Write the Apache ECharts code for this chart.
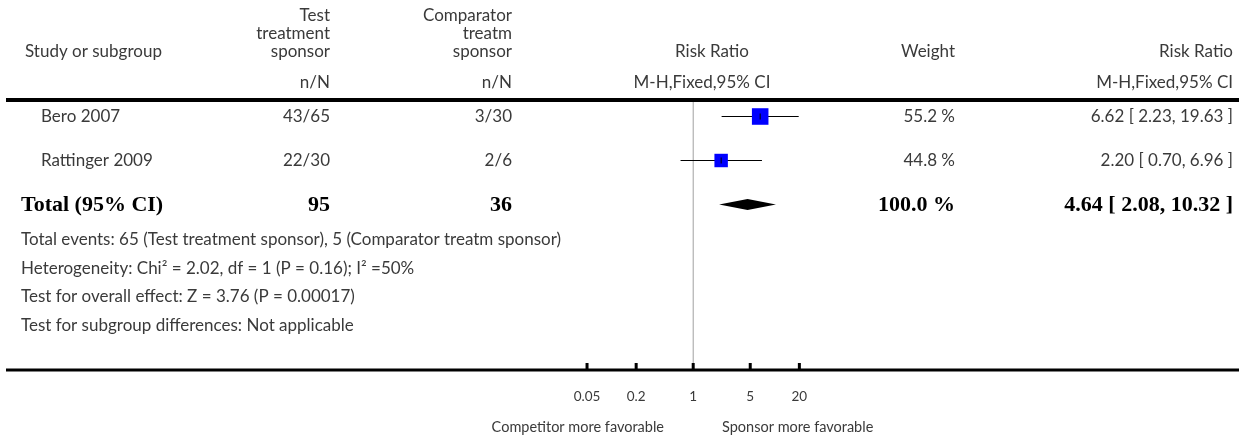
<!DOCTYPE html>
<html>
<head>
    <meta charset="utf-8">
    <title>Risk Ratio forest plot</title>
    <script src="https://cdn.jsdelivr.net/npm/echarts@6/dist/echarts.min.js"></script>
    <style>
        html, body { margin: 0; padding: 0; background: #fff; }
        #main { width: 1239px; height: 439px; }
    </style>
</head>
<body>
<div id="main"></div>
<script type="text/javascript">
    // data
    var studies = ['Bero 2007', 'Rattinger 2009'];
    var treatEvents = [43, 22];
    var treatTotal = [65, 30];
    var compEvents = [3, 2];
    var compTotal = [30, 6];
    var weights = [55.2, 44.8];
    var rr = [6.62, 2.20];
    var ciLow = [2.23, 0.70];
    var ciHigh = [19.63, 6.96];

    var totalN = [95, 36];
    var totalRR = [4.64, 2.08, 10.32]; // estimate, low, high
    var totalWeight = 100.0;

    var tickVals = [0.05, 0.2, 1, 5, 20];
    var tickLabels = ['0.05', '0.2', '1', '5', '20'];

    var footnotes = [
        'Total events: 65 (Test treatment sponsor), 5 (Comparator treatm sponsor)',
        'Heterogeneity: Chi\u00b2 = 2.02, df = 1 (P = 0.16); I\u00b2 =50%',
        'Test for overall effect: Z = 3.76 (P = 0.00017)',
        'Test for subgroup differences: Not applicable'
    ];

    var FONT = '17px Lato, "Open Sans", sans-serif';
    var SMALL = '14.5px Lato, "Open Sans", sans-serif';
    var TICK = '13.5px Lato, "Open Sans", sans-serif';
    var BOLD = 'bold 22px "Liberation Serif", "DejaVu Serif", serif';
    var TXT = '#3a3a3a';

    var Y_MIN = -0.375, Y_MAX = 5.761; // row index scale, rows 44px apart

    function ci(v, l, h) {
        return v.toFixed(2) + ' [ ' + l.toFixed(2) + ', ' + h.toFixed(2) + ' ]';
    }

    function txt(s, x, y, align, font, color) {
        return {
            type: 'text', silent: true,
            style: {
                text: s, x: x, y: y, textAlign: align || 'left', textVerticalAlign: 'middle',
                font: font || FONT, fill: color || TXT
            }
        };
    }

    var myChart = echarts.init(document.getElementById('main'), null, {renderer: 'canvas'});

    // header + table text
    var g = [];
    g.push(txt('Study or subgroup', 25, 52));
    g.push(txt('Test', 330, 16, 'right'));
    g.push(txt('treatment', 330, 34, 'right'));
    g.push(txt('sponsor', 330, 52, 'right'));
    g.push(txt('n/N', 330, 83, 'right'));
    g.push(txt('Comparator', 512, 16, 'right'));
    g.push(txt('treatm', 512, 34, 'right'));
    g.push(txt('sponsor', 512, 52, 'right'));
    g.push(txt('n/N', 512, 83, 'right'));
    g.push(txt('Risk Ratio', 712, 52, 'center'));
    g.push(txt('M-H,Fixed,95% CI', 702, 83, 'center'));
    g.push(txt('Weight', 955, 52, 'right'));
    g.push(txt('Risk Ratio', 1233, 52, 'right'));
    g.push(txt('M-H,Fixed,95% CI', 1233, 83, 'right'));

    // rules
    g.push({type: 'rect', silent: true, shape: {x: 6, y: 98, width: 1233, height: 4}, style: {fill: '#000'}});
    g.push({type: 'rect', silent: true, shape: {x: 6, y: 368.5, width: 1233, height: 3}, style: {fill: '#000'}});

    for (var i = 0; i < studies.length; i++) {
        var y = 116.5 + 44 * i;
        g.push(txt(studies[i], 41, y));
        g.push(txt(treatEvents[i] + '/' + treatTotal[i], 330, y, 'right'));
        g.push(txt(compEvents[i] + '/' + compTotal[i], 512, y, 'right'));
        g.push(txt(weights[i].toFixed(1) + ' %', 955, y, 'right'));
        g.push(txt(ci(rr[i], ciLow[i], ciHigh[i]), 1233, y, 'right'));
    }
    var ty = 116.5 + 44 * 2 + 1;
    g.push(txt('Total (95% CI)', 21, ty, 'left', BOLD, '#000'));
    g.push(txt(String(totalN[0]), 330, ty, 'right', BOLD, '#000'));
    g.push(txt(String(totalN[1]), 512, ty, 'right', BOLD, '#000'));
    g.push(txt(totalWeight.toFixed(1) + ' %', 955, ty, 'right', BOLD, '#000'));
    g.push(txt(ci(totalRR[0], totalRR[1], totalRR[2]), 1233, ty, 'right', BOLD, '#000'));

    for (var k = 0; k < footnotes.length; k++) {
        g.push(txt(footnotes[k], 21, 240 + 28.5 * k));
    }

    g.push(txt('Competitor more favorable', 664, 427, 'right', SMALL));
    g.push(txt('Sponsor more favorable', 722, 427, 'left', SMALL));

    var studyData = [];
    for (var j = 0; j < studies.length; j++) {
        studyData.push([rr[j], j, ciLow[j], ciHigh[j], weights[j]]);
    }

    var option = {
        animation: false,
        grid: {left: 530, right: 382.6, top: 100, bottom: 69, containLabel: false},
        xAxis: {
            type: 'log', logBase: 10, min: 0.01, max: 100,
            show: false
        },
        yAxis: {
            type: 'value', min: Y_MIN, max: Y_MAX, inverse: true, show: false
        },
        graphic: g,
        series: [
            {
                // line of no effect
                type: 'custom', clip: false, silent: true, z: 1,
                data: [[1]],
                renderItem: function (params, api) {
                    var a = api.coord([api.value(0), Y_MIN]);
                    var b = api.coord([api.value(0), Y_MAX]);
                    return {
                        type: 'line',
                        shape: {x1: a[0], y1: a[1] + 2, x2: b[0], y2: b[1] - 1.5},
                        style: {stroke: '#a0a0a0', lineWidth: 1}
                    };
                }
            },
            {
                // ticks + labels
                type: 'custom', clip: false, silent: true, z: 3,
                data: tickVals.map(function (v, i) { return [v, i]; }),
                renderItem: function (params, api) {
                    var p = api.coord([api.value(0), Y_MAX]);
                    return {
                        type: 'group',
                        children: [
                            {type: 'rect', shape: {x: p[0] - 1.5, y: p[1] - 7, width: 3, height: 6}, style: {fill: '#000'}},
                            {type: 'text', style: {
                                text: tickLabels[api.value(1)], x: p[0], y: p[1] + 27,
                                textAlign: 'center', textVerticalAlign: 'middle', font: TICK, fill: TXT
                            }}
                        ]
                    };
                }
            },
            {
                // study estimates
                type: 'custom', clip: false, silent: true, z: 5,
                data: studyData,
                renderItem: function (params, api) {
                    var c = api.coord([api.value(0), api.value(1)]);
                    var l = api.coord([api.value(2), api.value(1)]);
                    var h = api.coord([api.value(3), api.value(1)]);
                    var s = api.value(4) * 0.3;
                    return {
                        type: 'group',
                        children: [
                            {type: 'line', shape: {x1: l[0], y1: c[1], x2: h[0], y2: c[1]}, style: {stroke: '#000', lineWidth: 1}},
                            {type: 'rect', shape: {x: c[0] - s / 2, y: c[1] - s / 2, width: s, height: s}, style: {fill: '#0000ff'}},
                            {type: 'line', shape: {x1: c[0], y1: c[1] - 3, x2: c[0], y2: c[1] + 3}, style: {stroke: '#000', lineWidth: 1}}
                        ]
                    };
                }
            },
            {
                // pooled diamond
                type: 'custom', clip: false, silent: true, z: 5,
                data: [[totalRR[0], 2, totalRR[1], totalRR[2]]],
                renderItem: function (params, api) {
                    var c = api.coord([api.value(0), api.value(1)]);
                    var l = api.coord([api.value(2), api.value(1)]);
                    var h = api.coord([api.value(3), api.value(1)]);
                    return {
                        type: 'polygon',
                        shape: {points: [[l[0], c[1]], [c[0], c[1] - 5.5], [h[0], c[1]], [c[0], c[1] + 5.5]]},
                        style: {fill: '#000'}
                    };
                }
            }
        ]
    };

    myChart.setOption(option);
</script>
</body>
</html>
